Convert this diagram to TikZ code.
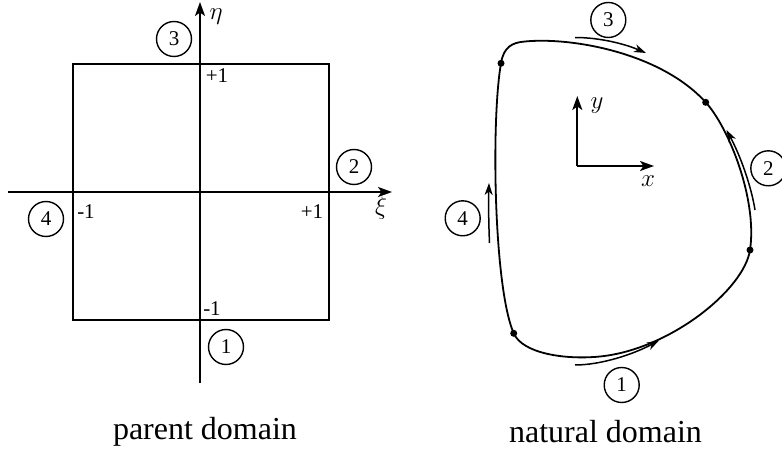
\documentclass[tikz,border=0pt]{standalone}
\usepackage{fix-cm}
\usepackage{fontspec}
\setmainfont{Liberation Serif}
\usetikzlibrary{arrows.meta}
\tikzset{
  lbl/.style={font=\fontsize{21}{24}\selectfont, inner sep=0pt},
  mlbl/.style={font=\fontsize{25}{28}\selectfont, inner sep=0pt},
  captxt/.style={font=\fontsize{32}{36}\selectfont, inner sep=0pt},
  num/.style={circle, draw, line width=1.4pt, minimum size=35pt, inner sep=0pt, font=\fontsize{21}{24}\selectfont},
  axis/.style={line width=1.9pt, -{Stealth[length=14pt,width=10pt,inset=3.5pt]}},
  frame/.style={line width=1.8pt},
  bound/.style={line width=1.8pt},
  dir/.style={line width=1.5pt, -{Stealth[length=12pt,width=8pt,inset=3.5pt]}},
  dot/.style={circle, fill, inner sep=0pt, minimum size=7pt},
}
\begin{document}
\begin{tikzpicture}[x=1pt,y=-1pt]
\useasboundingbox (0,0) rectangle (782,454);
% ---------- parent domain ----------
\coordinate (xl) at (8,192);
\coordinate (xr) at (392,192);
\coordinate (eb) at (200,383);
\coordinate (et) at (200,2);
\draw[frame] (73,64) rectangle (329,320);
\draw[axis] (xl) -- (xr);
\draw[axis] (eb) -- (et);
\node[mlbl] (eta) at (216,17) {$\eta$};
\node[mlbl] (xi) at (381,208) {$\xi$};
\node[lbl] (tp) at (217,76) {+1};
\node[lbl] (lm) at (86,212) {-1};
\node[lbl] (rp) at (312,212) {+1};
\node[lbl] (bm) at (212,309) {-1};
\node[num] (c3) at (174,39) {3};
\node[num] (c2) at (354,167) {2};
\node[num] (c4) at (46,219) {4};
\node[num] (c1) at (226,347) {1};
\node[captxt] (pd) at (205,432) {parent domain};
% ---------- natural domain ----------
\coordinate (d1) at (513.7,333.3);
\coordinate (d2) at (750,250);
\coordinate (d3) at (705.7,102.3);
\coordinate (d4) at (501,63.3);
\coordinate (pt) at (525,41.5);
\coordinate (pb) at (600,356.5);
\draw[bound] (d4) .. controls (503.6,47) and (512,42.5) .. (pt)
  .. controls (570,37) and (660,52) .. (d3)
  .. controls (729.2,128.2) and (757.5,200) .. (d2)
  .. controls (744.1,289.6) and (670,349.5) .. (pb)
  .. controls (565,360) and (522.5,353.5) .. (d1)
  .. controls (493.7,287.3) and (491,120) .. (d4) -- cycle;
\foreach \d in {d1,d2,d3,d4} \node[dot] at (\d) {};
% direction arrows
\coordinate (a3s) at (575,37.5);  \coordinate (a3e) at (646,53);
\coordinate (a2s) at (755,210);   \coordinate (a2e) at (726.5,130);
\coordinate (a4s) at (489.5,243); \coordinate (a4e) at (489,183);
\coordinate (a1s) at (575,365);   \coordinate (a1e) at (659,340.5);
\draw[dir] (a3s) .. controls (600,37.5) and (625,44) .. (a3e);
\draw[dir] (a2s) .. controls (751,185) and (740,155) .. (a2e);
\draw[dir] (a4s) .. controls (488.5,220) and (488.5,200) .. (a4e);
\draw[dir] (a1s) .. controls (600,365) and (632,355) .. (a1e);
\node[num] (n3) at (608.3,20) {3};
\node[num] (n2) at (768.3,168.3) {2};
\node[num] (n4) at (462.7,218.3) {4};
\node[num] (n1) at (621.7,385) {1};
% local axes
\coordinate (o) at (577.3,166);
\coordinate (ox) at (654,166);
\coordinate (oy) at (577.3,96);
\draw[axis] (o) -- (ox);
\draw[axis] (o) -- (oy);
\node[mlbl] (ylab) at (597,106) {$y$};
\node[mlbl] (xlab) at (648,181) {$x$};
\node[captxt] (nd) at (605.5,432) {natural domain};
\end{tikzpicture}
\end{document}
